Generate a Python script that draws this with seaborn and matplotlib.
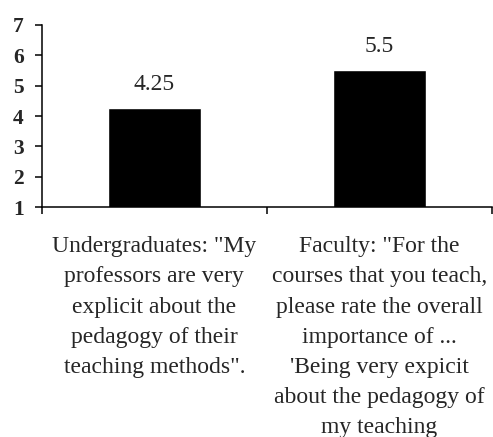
import matplotlib
matplotlib.use("Agg")
import matplotlib.pyplot as plt
import seaborn as sns
import pandas as pd

# Data
groups = [
    'Undergraduates: "My\nprofessors are very\nexplicit about the\npedagogy of their\nteaching methods".',
    'Faculty: "For the\ncourses that you teach,\nplease rate the overall\nimportance of ...\n\'Being very expicit\nabout the pedagogy of\nmy teaching',
]
ratings = [4.25, 5.5]
value_labels = ["4.25", "5.5"]
y_ticks = [1, 2, 3, 4, 5, 6, 7]

df = pd.DataFrame({"group": groups, "rating": ratings})

sns.set_style("white")
plt.rcParams["font.family"] = ["Liberation Serif", "DejaVu Serif"]

fig = plt.figure(figsize=(4.93, 4.37), dpi=100)
ax = fig.add_axes([0.085, 0.526, 0.913, 0.417])

sns.barplot(data=df, x="group", y="rating", color="black", width=0.41,
            saturation=1, ax=ax)

ax.set_ylim(1, 7)
ax.set_xlim(-0.5, 1.5)
ax.set_yticks(y_ticks)
ax.set_yticklabels([str(t) for t in y_ticks], fontsize=15.5, fontweight="bold")
ax.set_xlabel("")
ax.set_ylabel("")

# category labels centered, ticks at the boundaries
ax.set_xticks([0, 1])
ax.set_xticklabels(groups, fontsize=17, linespacing=1.57, ha="center",
                   multialignment="center")
ax.tick_params(axis="x", which="major", length=0, pad=21)
ax.set_xticks([-0.5, 0.5, 1.5], minor=True)
ax.tick_params(axis="x", which="minor", length=5, width=1.1, color="black",
               direction="out", bottom=True)
ax.tick_params(axis="y", length=5, width=1.1, color="black", direction="out",
               left=True, pad=8)

for s in ["top", "right"]:
    ax.spines[s].set_visible(False)
for s in ["left", "bottom"]:
    ax.spines[s].set_color("black")
    ax.spines[s].set_linewidth(1.1)

ax.bar_label(ax.containers[0], labels=value_labels, padding=10, fontsize=17)

fig.savefig("out.png", dpi=100)
